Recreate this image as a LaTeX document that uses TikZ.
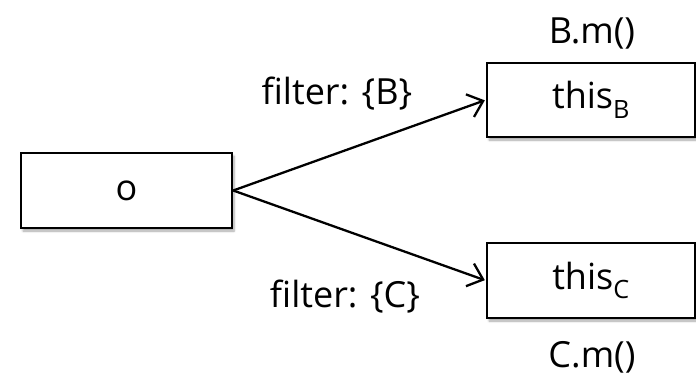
\documentclass[tikz,border=0pt]{standalone}
\usepackage{fontspec}
\setmainfont{Open Sans}
\usetikzlibrary{arrows.meta,shadows.blur}
\begin{document}
\begin{tikzpicture}[x=1pt,y=-1pt]
        \tikzset{obj/.style = {shape=rectangle,draw,line width=2.5pt,fill=white,
                blur shadow={shadow xshift=2pt,shadow yshift=-3pt,shadow blur steps=6,shadow opacity=35},
                minimum width=208pt,minimum height=74pt,inner sep=0pt,font=\fontsize{36}{42}\selectfont}}
        \tikzset{lbl/.style = {inner sep=0pt,font=\fontsize{36}{42}\selectfont}}
        \tikzset{edge/.style = {line width=2.3pt,shorten >=1pt,-{Straight Barb[length=14pt,width=24pt,line width=2.3pt]}}}
        \useasboundingbox (0,0) rectangle (696,378);
        % receiver object on the left
        \node[obj,minimum width=211pt,minimum height=75pt] (o) at (126.5,190.5) {o};
        % this objects on the right
        \node[obj] (thisb) at (591,100) {this\textsubscript{B}};
        \node[obj,minimum height=75pt] (thisc) at (591,280.5) {this\textsubscript{C}};
        % method names
        \node[lbl] (bm) at (592,33) {B.m()};
        \node[lbl] (cm) at (592,357) {C.m()};
        % filter labels
        \node[lbl] (fb) at (337,94) {filter: \{B\}};
        \node[lbl] (fc) at (345,297) {filter: \{C\}};
        % dispatch edges
        \draw[edge] (o.east) to (thisb.west);
        \draw[edge] (o.east) to (thisc.west);
\end{tikzpicture}
\end{document}
